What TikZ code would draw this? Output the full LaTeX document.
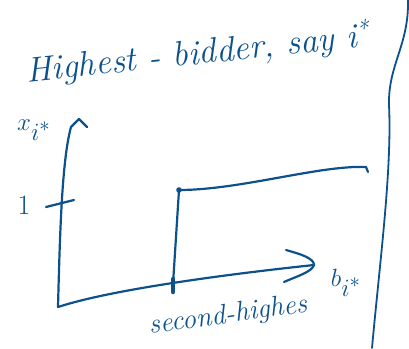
\documentclass[tikz,border=0pt]{standalone}
\usetikzlibrary{arrows.meta}
\definecolor{ink}{RGB}{12,80,140}
\begin{document}
\begin{tikzpicture}[x=1pt,y=-1pt,
  pen/.style={draw=ink,line width=2.2pt,line cap=round,line join=round},
  lbl/.style={text=ink,inner sep=0pt,font=\itshape}]
\useasboundingbox (0,0) rectangle (409,348);
% title
\node[lbl,rotate=6,font=\itshape\fontsize{35}{35}\selectfont] (title) at (198,54) {Highest - bidder, say i\textsuperscript{*}};
% right border line
\coordinate (r1) at (408,0);
\coordinate (r2) at (372,348);
\draw[pen,line width=1.8pt] (r1) .. controls (409,45) and (388,65) .. (389,105) .. controls (392,170) and (380,260) .. (r2);
% axes
\coordinate (O) at (58,307);
\coordinate (Ytop) at (71,127);
\coordinate (Ytip) at (79,119);
\coordinate (Yr) at (87,127);
\draw[pen] (O) .. controls (60,230) and (62,160) .. (Ytop) -- (Ytip) -- (Yr);
\coordinate (Xtip) at (314,265);
\coordinate (Xu) at (286,250);
\coordinate (Xd) at (284,282);
\draw[pen] (O) .. controls (110,290) and (220,275) .. (Xtip);
\draw[pen] (Xu) .. controls (300,254) and (314,258) .. (Xtip) .. controls (312,272) and (295,277) .. (Xd);
% tick at 1
\coordinate (t1) at (46,207);
\coordinate (t2) at (74,200);
\draw[pen] (t1) -- (t2);
\node[lbl,font=\fontsize{28}{28}\selectfont] (one) at (24,205) {1};
% axis labels
\node[lbl,font=\itshape\fontsize{32}{32}\selectfont] (ylab) at (34,130) {$x_{\textstyle i^{*}}$};
\node[lbl,font=\itshape\fontsize{30}{30}\selectfont] (xlab) at (346,283) {$b_{\textstyle i^{*}}$};
% step function
\coordinate (B) at (173,284);
\coordinate (T) at (179,190);
\coordinate (E) at (366,167);
\coordinate (Ee) at (368,172);
\draw[pen] (B) -- (T);
\draw[pen] (T) .. controls (240,190) and (320,165) .. (E) -- (Ee);
\fill[ink] (T) circle (2.8pt);
\draw[ink,line width=4.5pt,line cap=round] (173,279) -- (173,292);
\node[lbl,rotate=8,font=\itshape\fontsize{28}{28}\selectfont] (sec) at (228,316) {second-highes};
\end{tikzpicture}
\end{document}
